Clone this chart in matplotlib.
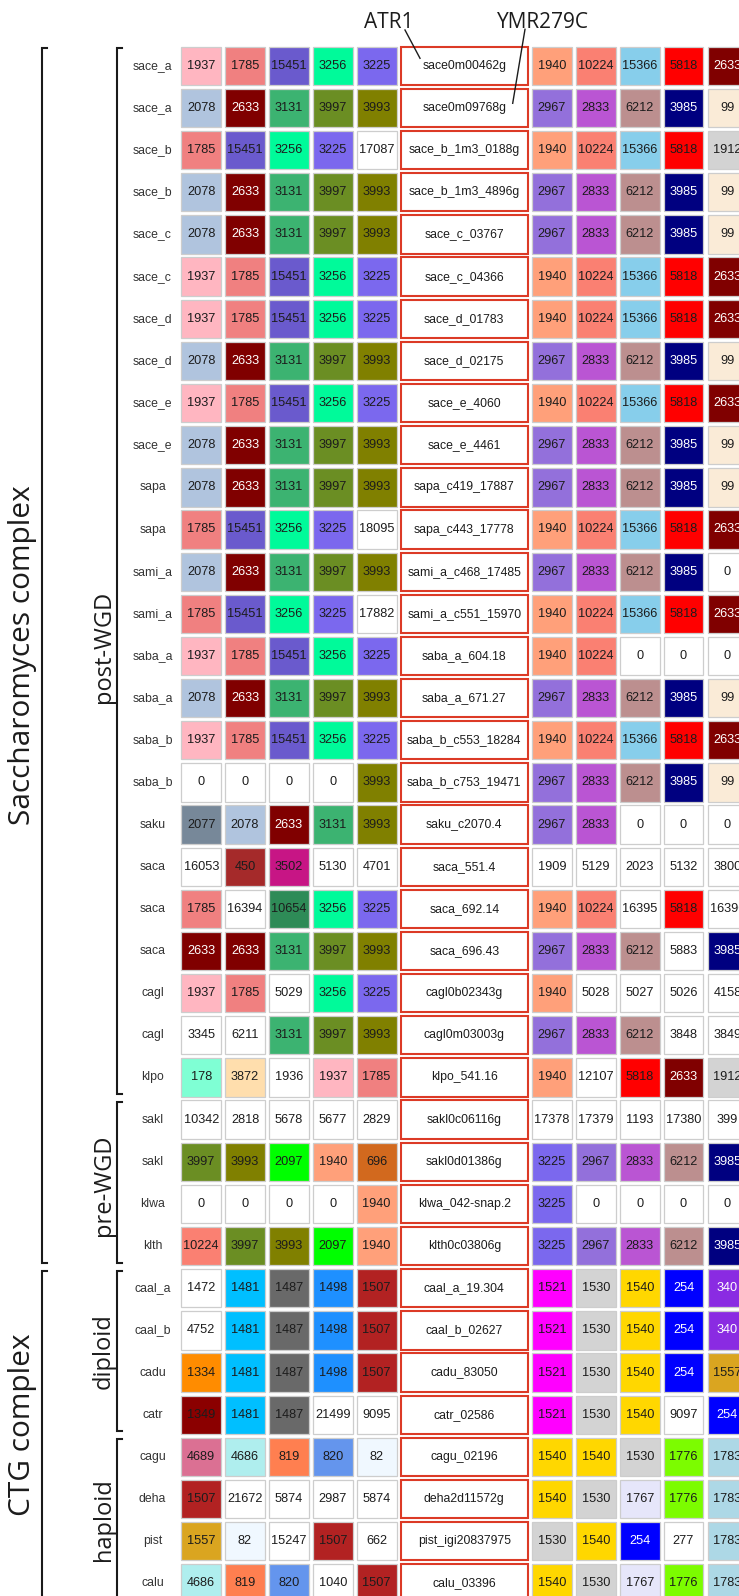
import matplotlib
matplotlib.use('Agg')
from matplotlib import pyplot as plt
from matplotlib.patches import Rectangle

plt.rcParams['font.family'] = ['Liberation Sans', 'DejaVu Sans']

# one row per gene copy: species, 5 left neighbours, gene, 5 right neighbours
species = ['sace_a', 'sace_a', 'sace_b', 'sace_b', 'sace_c', 'sace_c', 'sace_d', 'sace_d',
           'sace_e', 'sace_e', 'sapa', 'sapa', 'sami_a', 'sami_a', 'saba_a', 'saba_a',
           'saba_b', 'saba_b', 'saku', 'saca', 'saca', 'saca', 'cagl', 'cagl', 'klpo',
           'sakl', 'sakl', 'klwa', 'klth',
           'caal_a', 'caal_b', 'cadu', 'catr', 'cagu', 'deha', 'pist', 'calu']

genes = ['sace0m00462g', 'sace0m09768g', 'sace_b_1m3_0188g', 'sace_b_1m3_4896g',
         'sace_c_03767', 'sace_c_04366', 'sace_d_01783', 'sace_d_02175',
         'sace_e_4060', 'sace_e_4461', 'sapa_c419_17887', 'sapa_c443_17778',
         'sami_a_c468_17485', 'sami_a_c551_15970', 'saba_a_604.18', 'saba_a_671.27',
         'saba_b_c553_18284', 'saba_b_c753_19471', 'saku_c2070.4', 'saca_551.4',
         'saca_692.14', 'saca_696.43', 'cagl0b02343g', 'cagl0m03003g', 'klpo_541.16',
         'sakl0c06116g', 'sakl0d01386g', 'klwa_042-snap.2', 'klth0c03806g',
         'caal_a_19.304', 'caal_b_02627', 'cadu_83050', 'catr_02586', 'cagu_02196',
         'deha2d11572g', 'pist_igi20837975', 'calu_03396']

left_og = [
    [1937, 1785, 15451, 3256, 3225],
    [2078, 2633, 3131, 3997, 3993],
    [1785, 15451, 3256, 3225, 17087],
    [2078, 2633, 3131, 3997, 3993],
    [2078, 2633, 3131, 3997, 3993],
    [1937, 1785, 15451, 3256, 3225],
    [1937, 1785, 15451, 3256, 3225],
    [2078, 2633, 3131, 3997, 3993],
    [1937, 1785, 15451, 3256, 3225],
    [2078, 2633, 3131, 3997, 3993],
    [2078, 2633, 3131, 3997, 3993],
    [1785, 15451, 3256, 3225, 18095],
    [2078, 2633, 3131, 3997, 3993],
    [1785, 15451, 3256, 3225, 17882],
    [1937, 1785, 15451, 3256, 3225],
    [2078, 2633, 3131, 3997, 3993],
    [1937, 1785, 15451, 3256, 3225],
    [0, 0, 0, 0, 3993],
    [2077, 2078, 2633, 3131, 3993],
    [16053, 450, 3502, 5130, 4701],
    [1785, 16394, 10654, 3256, 3225],
    [2633, 2633, 3131, 3997, 3993],
    [1937, 1785, 5029, 3256, 3225],
    [3345, 6211, 3131, 3997, 3993],
    [178, 3872, 1936, 1937, 1785],
    [10342, 2818, 5678, 5677, 2829],
    [3997, 3993, 2097, 1940, 696],
    [0, 0, 0, 0, 1940],
    [10224, 3997, 3993, 2097, 1940],
    [1472, 1481, 1487, 1498, 1507],
    [4752, 1481, 1487, 1498, 1507],
    [1334, 1481, 1487, 1498, 1507],
    [1349, 1481, 1487, 21499, 9095],
    [4689, 4686, 819, 820, 82],
    [1507, 21672, 5874, 2987, 5874],
    [1557, 82, 15247, 1507, 662],
    [4686, 819, 820, 1040, 1507],
]

right_og = [
    [1940, 10224, 15366, 5818, 2633],
    [2967, 2833, 6212, 3985, 99],
    [1940, 10224, 15366, 5818, 1912],
    [2967, 2833, 6212, 3985, 99],
    [2967, 2833, 6212, 3985, 99],
    [1940, 10224, 15366, 5818, 2633],
    [1940, 10224, 15366, 5818, 2633],
    [2967, 2833, 6212, 3985, 99],
    [1940, 10224, 15366, 5818, 2633],
    [2967, 2833, 6212, 3985, 99],
    [2967, 2833, 6212, 3985, 99],
    [1940, 10224, 15366, 5818, 2633],
    [2967, 2833, 6212, 3985, 0],
    [1940, 10224, 15366, 5818, 2633],
    [1940, 10224, 0, 0, 0],
    [2967, 2833, 6212, 3985, 99],
    [1940, 10224, 15366, 5818, 2633],
    [2967, 2833, 6212, 3985, 99],
    [2967, 2833, 0, 0, 0],
    [1909, 5129, 2023, 5132, 3800],
    [1940, 10224, 16395, 5818, 16396],
    [2967, 2833, 6212, 5883, 3985],
    [1940, 5028, 5027, 5026, 4158],
    [2967, 2833, 6212, 3848, 3849],
    [1940, 12107, 5818, 2633, 1912],
    [17378, 17379, 1193, 17380, 399],
    [3225, 2967, 2833, 6212, 3985],
    [3225, 0, 0, 0, 0],
    [3225, 2967, 2833, 6212, 3985],
    [1521, 1530, 1540, 254, 340],
    [1521, 1530, 1540, 254, 340],
    [1521, 1530, 1540, 254, 1557],
    [1521, 1530, 1540, 9097, 254],
    [1540, 1540, 1530, 1776, 1783],
    [1540, 1530, 1767, 1776, 1783],
    [1530, 1540, 254, 277, 1783],
    [1540, 1530, 1767, 1776, 1783],
]

# shared orthogroups get a colour, singletons stay white
og_colors = {
    1937: 'lightpink', 1785: 'lightcoral', 15451: 'slateblue', 3256: 'mediumspringgreen',
    3225: 'mediumslateblue', 2078: 'lightsteelblue', 2633: 'maroon', 3131: 'mediumseagreen',
    3997: 'olivedrab', 3993: 'olive', 1940: 'lightsalmon', 10224: 'salmon',
    15366: 'skyblue', 5818: 'red', 2967: 'mediumpurple', 2833: 'mediumorchid',
    6212: 'rosybrown', 3985: 'navy', 99: 'antiquewhite', 1912: 'lightgray',
    2077: 'lightslategray', 450: 'brown', 3502: 'mediumvioletred', 10654: 'seagreen',
    178: 'aquamarine', 3872: 'navajowhite', 2097: 'lime', 696: 'chocolate',
    1481: 'deepskyblue', 1487: 'dimgray', 1498: 'dodgerblue', 1507: 'firebrick',
    1521: 'magenta', 1530: 'lightgray', 1540: 'gold', 254: 'blue', 340: 'blueviolet',
    1334: 'darkorange', 1557: 'goldenrod', 1349: 'darkred', 4689: 'palevioletred',
    4686: 'paleturquoise', 819: 'coral', 820: 'cornflowerblue', 82: 'aliceblue',
    1776: 'lawngreen', 1783: 'lightblue', 1767: 'lavender',
}
white_text = {2633, 3985, 254, 340}

outer_groups = [('Saccharomyces complex', 0, 28), ('CTG complex', 29, 36)]
inner_groups = [('post-WGD', 0, 24), ('pre-WGD', 25, 28), ('diploid', 29, 32), ('haploid', 33, 36)]
outer_label_y = [655, 1425]
inner_label_y = [647, 1185, 1351, 1520]

# grid geometry in pixels
x0, pw, cw = 181.3, 43.85, 39.8
y0, ph, chh = 46.7, 42.15, 38.3
ink = '#1c1c1c'
edge = '#cdcdcd'
genebox_red = '#dc3a26'
label_font = ['Open Sans', 'DejaVu Sans']

fig = plt.figure(figsize=(7.39, 15.96), dpi=100)
ax = fig.add_axes([0, 0, 1, 1])
ax.set_xlim(0, 739)
ax.set_ylim(1596, 0)
ax.axis('off')


def cell(ax, x, y, og):
    fc = og_colors.get(og, 'white')
    ax.add_patch(Rectangle((x, y), cw, chh, facecolor=fc, edgecolor=edge, lw=0.9))
    tc = 'white' if og in white_text else ink
    ax.text(x + cw / 2, y + chh / 2, str(og), ha='center', va='center',
            fontsize=9.2, color=tc)


for i in range(len(species)):
    y = y0 + i * ph
    ax.text(152.5, y + chh / 2, species[i], ha='center', va='center', fontsize=8.8, color='#333333')
    for j, og in enumerate(left_og[i]):
        cell(ax, x0 + j * pw, y, og)
    gx = x0 + 5 * pw
    gw = 3 * pw - (pw - cw)
    ax.add_patch(Rectangle((gx, y), gw, chh, facecolor='white',
                           edgecolor=genebox_red, lw=1.5))
    ax.text(gx + gw / 2, y + chh / 2, genes[i], ha='center', va='center',
            fontsize=8.8, color=ink)
    for j, og in enumerate(right_og[i]):
        cell(ax, x0 + (8 + j) * pw, y, og)


def bracket(ax, x, r0, r1):
    top = y0 + r0 * ph + 1.5
    bot = y0 + r1 * ph + chh - 2.5
    ax.plot([x + 5, x, x, x + 5], [top, top, bot, bot], color='#1a1a1a', lw=1.5,
            solid_joinstyle='miter', clip_on=False)


for (name, r0, r1), ly in zip(outer_groups, outer_label_y):
    bracket(ax, 41.7, r0, r1)
    ax.text(23, ly, name, rotation=90, ha='center', va='center', fontsize=21.5,
            family=label_font, color=ink)

for (name, r0, r1), ly in zip(inner_groups, inner_label_y):
    bracket(ax, 117.3, r0, r1)
    ax.text(104, ly, name, rotation=90, ha='center', va='center', fontsize=17,
            family=label_font, color=ink)

# gene names called out above the first two rows
ax.text(389, 28.3, 'ATR1', ha='center', va='baseline', fontsize=15,
        family=label_font, color=ink)
ax.plot([405, 420], [30, 58.3], color=ink, lw=1.0)
ax.text(542.7, 28.3, 'YMR279C', ha='center', va='baseline', fontsize=15,
        family=label_font, color=ink)
ax.plot([525, 512.7], [29.3, 103.3], color=ink, lw=1.0)

fig.savefig('out.png', dpi=100)
